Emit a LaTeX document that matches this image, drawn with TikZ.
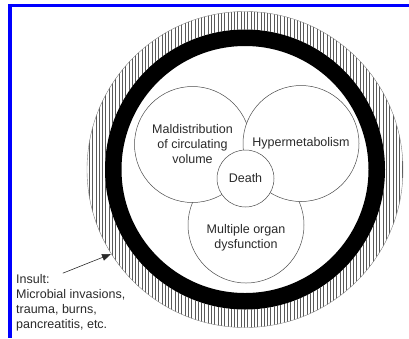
\documentclass[tikz,border=0pt]{standalone}
\usepackage{fontspec}
\setmainfont{Liberation Sans}
\usetikzlibrary{positioning,arrows.meta}
\definecolor{frameblue}{HTML}{0000FF}
\definecolor{inkgray}{HTML}{2A2A2A}

\tikzset{
  bigcirc/.style={circle,draw=black!70,fill=white,line width=0.5pt,minimum size=116pt,inner sep=0pt,align=center},
  smallcirc/.style={bigcirc,minimum size=57pt},
  caption/.style={inner sep=1pt,align=left,text=inkgray}
}

\begin{document}
\begin{tikzpicture}[x=1pt,y=-1pt,>={Triangle[length=9pt,width=7pt]}, every node/.style={font=\fontsize{12.5}{15}\selectfont,text=inkgray}]
        \useasboundingbox (0,0) rectangle (409,338);
        % frame
        \fill[frameblue] (8,4) rectangle (409,7);
        \fill[frameblue] (8,4) rectangle (12,338);
        % rings
        \coordinate (c) at (245,169.5);
        \begin{scope}
          \clip (c) circle[radius=158];
          \foreach \x in {86,89.3,...,406}
            \draw[black!65,line width=0.7pt] (\x,0) -- (\x,338);
        \end{scope}
        \draw[black!50,line width=0.4pt] (c) circle[radius=158];
        \fill[white] (c) circle[radius=140];
        \draw[line width=16.5pt] (c) circle[radius=131.75];
        % circles
        \node[bigcirc] (org) at (246,225) {};
        \node[bigcirc] (mal) at (192.5,144.5) {Maldistribution\\of circulating\\volume};
        \node[bigcirc] (hyp) at (301,143.5) {Hypermetabolism};
        \node[smallcirc] (death) at (245.5,178.5) {Death};
        \node[align=center] (orgtxt) at ([yshift=-13pt]org.center) {Multiple organ\\dysfunction};
        % insult
        \node[caption,anchor=west] (ins) at (15,279) {Insult:};
        \node[caption,anchor=north west] (cause) at ([yshift=-3pt]ins.south west) {Microbial invasions,\\trauma, burns,\\pancreatitis, etc.};
        \coordinate (tip) at (111,254);
        \draw[->,inkgray,line width=0.6pt] ([xshift=12pt]ins.north east) -- (tip);
      \end{tikzpicture}
\end{document}
